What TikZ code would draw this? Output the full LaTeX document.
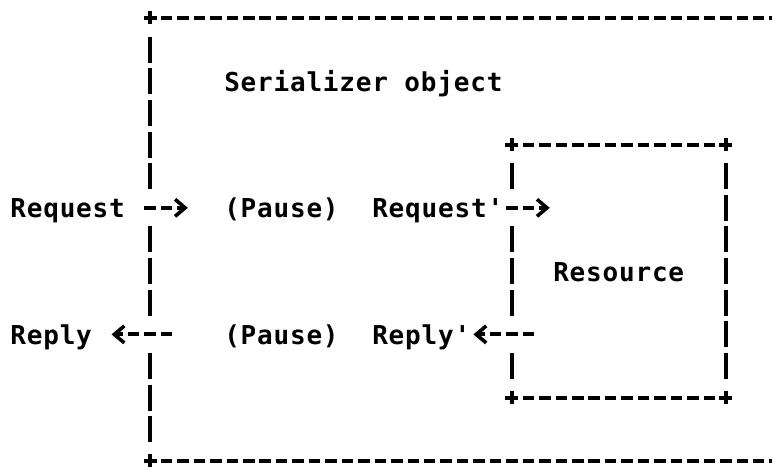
\documentclass[tikz,border=0pt]{standalone}
\usepackage{fontspec}
\usetikzlibrary{arrows.meta}
% line-printer style lettering: bold mono, tracked out to a 16.45pt cell
\newfontfamily\printfont[LetterSpace=3.1,Ligatures=TeXOff]{DejaVu Sans Mono}
\tikzset{
  ink/.style={line width=4pt, black},
  hrule/.style={ink, dash pattern=on 11.5pt off 4.95pt},
  vrule/.style={ink, dash pattern=on 26pt off 5.64pt},
  lbl/.style={font={\printfont\bfseries\fontsize{26pt}{26pt}\selectfont},
    anchor=base west, inner sep=0pt, yshift=-10pt},
  flow/.style={hrule, -{Straight Barb[length=10pt,width=17pt,line width=3.6pt]}},
  crossmark/.pic={\draw[ink] (-6.5pt,0) -- (6.5pt,0) (0,-6.5pt) -- (0,6.5pt);}
}
\begin{document}
\begin{tikzpicture}
\path[use as bounding box, fill=white] (0,0) rectangle (772pt,-470pt);
\clip (0,0) rectangle (772pt,-470pt);
% grid: x = character column (left edge), y = text row (centre line)
\begin{scope}[x=16.45pt, y=-31.64pt, shift={(10.2pt,-18pt)}]
  % corners of the two boxes
  \coordinate (otl) at (8.5,0);
  \coordinate (obl) at (8.5,14);
  \coordinate (itl) at (30.5,4);
  \coordinate (itr) at (43.5,4);
  \coordinate (ibl) at (30.5,12);
  \coordinate (ibr) at (43.5,12);

  % outer box (serializer object), open to the right
  \draw[hrule] (9.152,0) -- (47,0);
  \draw[hrule] (9.152,14) -- (47,14);
  \draw[vrule] (8.5,0.589) -- (8.5,5.411);
  \draw[vrule] (8.5,6.589) -- (8.5,9.411);
  \draw[vrule] (8.5,10.589) -- (8.5,13.411);
  \pic at (otl) {crossmark};
  \pic at (obl) {crossmark};

  % inner box (resource)
  \draw[hrule] (31.152,4) -- (42.86,4);
  \draw[hrule] (31.152,12) -- (42.86,12);
  \draw[vrule] (30.5,4.589) -- (30.5,5.411);
  \draw[vrule] (30.5,6.589) -- (30.5,9.411);
  \draw[vrule] (30.5,10.589) -- (30.5,11.411);
  \draw[vrule] (43.5,4.589) -- (43.5,11.411);
  \pic at (itl) {crossmark};
  \pic at (itr) {crossmark};
  \pic at (ibl) {crossmark};
  \pic at (ibr) {crossmark};

  % labels
  \node[lbl] (title)  at (13,2)  {Serializer object};
  \node[lbl] (req)    at (0,6)   {Request};
  \node[lbl] (pause1) at (13,6)  {(Pause)};
  \node[lbl] (reqp)   at (22,6)  {Request'};
  \node[lbl] (res)    at (33,8)  {Resource};
  \node[lbl] (rep)    at (0,10)  {Reply};
  \node[lbl] (pause2) at (13,10) {(Pause)};
  \node[lbl] (repp)   at (22,10) {Reply'};

  % message arrows
  \coordinate (reqout) at (8.152,6);   \coordinate (reqin) at (10.8,6);
  \coordinate (fwdout) at (30.152,6);  \coordinate (fwdin) at (32.8,6);
  \coordinate (repout) at (9.851,10);  \coordinate (repin) at (6.16,10);
  \coordinate (bckout) at (31.851,10); \coordinate (bckin) at (28.16,10);
  \draw[flow] (reqout) -- (reqin);
  \draw[flow] (fwdout) -- (fwdin);
  \draw[flow] (repout) -- (repin);
  \draw[flow] (bckout) -- (bckin);
\end{scope}
\end{tikzpicture}
\end{document}
